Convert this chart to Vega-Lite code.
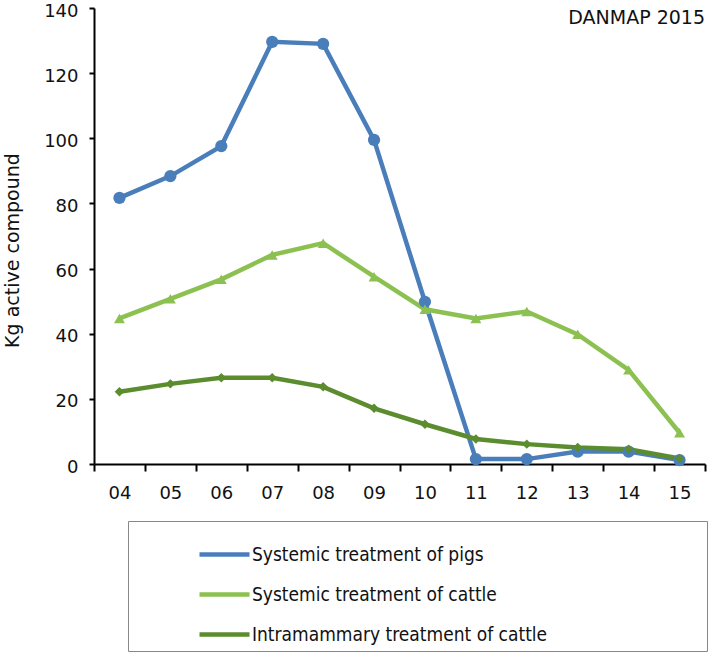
{
  "$schema": "https://vega.github.io/schema/vega-lite/v6.json",
  "width": 611,
  "height": 456,
  "autosize": {"type": "none"},
  "padding": {"left": 94, "top": 8, "right": 4, "bottom": 192},
  "background": "white",
  "config": {
    "view": {"stroke": null},
    "font": "DejaVu Sans",
    "axis": {"grid": false, "domainColor": "#000", "tickColor": "#000", "domainWidth": 2, "tickWidth": 2, "labelColor": "#111", "labelFont": "DejaVu Sans", "labelFontSize": 18, "titleFont": "DejaVu Sans", "titleFontWeight": "normal", "titleFontSize": 19, "titleColor": "#111"}
  },
  "data": {
    "values": [
      {"year": "04", "series": "Systemic treatment of pigs", "kg": 81.7},
      {"year": "05", "series": "Systemic treatment of pigs", "kg": 88.4},
      {"year": "06", "series": "Systemic treatment of pigs", "kg": 97.6},
      {"year": "07", "series": "Systemic treatment of pigs", "kg": 129.6},
      {"year": "08", "series": "Systemic treatment of pigs", "kg": 129.0},
      {"year": "09", "series": "Systemic treatment of pigs", "kg": 99.5},
      {"year": "10", "series": "Systemic treatment of pigs", "kg": 49.8},
      {"year": "11", "series": "Systemic treatment of pigs", "kg": 1.5},
      {"year": "12", "series": "Systemic treatment of pigs", "kg": 1.5},
      {"year": "13", "series": "Systemic treatment of pigs", "kg": 3.8},
      {"year": "14", "series": "Systemic treatment of pigs", "kg": 3.8},
      {"year": "15", "series": "Systemic treatment of pigs", "kg": 1.2},
      {"year": "04", "series": "Systemic treatment of cattle", "kg": 44.7},
      {"year": "05", "series": "Systemic treatment of cattle", "kg": 50.7},
      {"year": "06", "series": "Systemic treatment of cattle", "kg": 56.7},
      {"year": "07", "series": "Systemic treatment of cattle", "kg": 64.2},
      {"year": "08", "series": "Systemic treatment of cattle", "kg": 67.8},
      {"year": "09", "series": "Systemic treatment of cattle", "kg": 57.5},
      {"year": "10", "series": "Systemic treatment of cattle", "kg": 47.5},
      {"year": "11", "series": "Systemic treatment of cattle", "kg": 44.7},
      {"year": "12", "series": "Systemic treatment of cattle", "kg": 46.8},
      {"year": "13", "series": "Systemic treatment of cattle", "kg": 39.8},
      {"year": "14", "series": "Systemic treatment of cattle", "kg": 28.9},
      {"year": "15", "series": "Systemic treatment of cattle", "kg": 9.6},
      {"year": "04", "series": "Intramammary treatment of cattle", "kg": 22.2},
      {"year": "05", "series": "Intramammary treatment of cattle", "kg": 24.6},
      {"year": "06", "series": "Intramammary treatment of cattle", "kg": 26.5},
      {"year": "07", "series": "Intramammary treatment of cattle", "kg": 26.5},
      {"year": "08", "series": "Intramammary treatment of cattle", "kg": 23.7},
      {"year": "09", "series": "Intramammary treatment of cattle", "kg": 17.1},
      {"year": "10", "series": "Intramammary treatment of cattle", "kg": 12.2},
      {"year": "11", "series": "Intramammary treatment of cattle", "kg": 7.7},
      {"year": "12", "series": "Intramammary treatment of cattle", "kg": 6.1},
      {"year": "13", "series": "Intramammary treatment of cattle", "kg": 5.1},
      {"year": "14", "series": "Intramammary treatment of cattle", "kg": 4.5},
      {"year": "15", "series": "Intramammary treatment of cattle", "kg": 1.7}
    ]
  },
  "title": {"text": "DANMAP 2015", "anchor": "end", "frame": "group", "orient": "top", "offset": -26, "font": "DejaVu Sans", "fontSize": 19, "fontWeight": "normal", "color": "#111"},
  "encoding": {
    "x": {"field": "year", "type": "ordinal", "scale": {"type": "band", "paddingInner": 0, "paddingOuter": 0},
      "axis": {"title": null, "labelAngle": 0, "tickBand": "extent", "tickSize": 7, "labelPadding": 13}},
    "y": {"field": "kg", "type": "quantitative", "scale": {"domain": [0, 140], "nice": false},
      "axis": {"title": "Kg active compound", "values": [0, 20, 40, 60, 80, 100, 120, 140], "tickSize": 5, "labelPadding": 11, "labelOffset": 3, "titlePadding": 21, "titleY": 242}}
  },
  "layer": [
    {"mark": {"type": "line", "strokeWidth": 4.5},
      "encoding": {
        "color": {"field": "series", "type": "nominal",
          "scale": {"domain": ["Systemic treatment of pigs", "Systemic treatment of cattle", "Intramammary treatment of cattle"], "range": ["#4A7EBB", "#8CC152", "#5B8C2E"]},
          "legend": {"title": " ", "titleOrient": "right", "titlePadding": 154, "orient": "none", "legendX": 34, "legendY": 513, "direction": "vertical", "symbolType": "stroke", "symbolSize": 2500, "symbolStrokeWidth": 4.5, "symbolOffset": 63, "labelOffset": 0, "labelFont": "DejaVu Sans Condensed", "labelFontSize": 19, "labelColor": "#111", "labelLimit": 400, "padding": 6, "rowPadding": 2, "strokeColor": "#888", "fillColor": "white"}
        },
        "detail": {"field": "series"}
      }},
    {"mark": {"type": "point", "filled": true, "opacity": 1},
      "encoding": {
        "color": {"field": "series", "type": "nominal", "legend": null},
        "shape": {"field": "series", "type": "nominal", "scale": {"domain": ["Systemic treatment of pigs", "Systemic treatment of cattle", "Intramammary treatment of cattle"], "range": ["circle", "triangle-up", "diamond"]}, "legend": null},
        "size": {"field": "series", "type": "nominal", "scale": {"domain": ["Systemic treatment of pigs", "Systemic treatment of cattle", "Intramammary treatment of cattle"], "range": [150, 90, 90]}, "legend": null}
      }}
  ],
  "resolve": {"legend": {"color": "independent", "shape": "independent", "size": "independent"}}
}
